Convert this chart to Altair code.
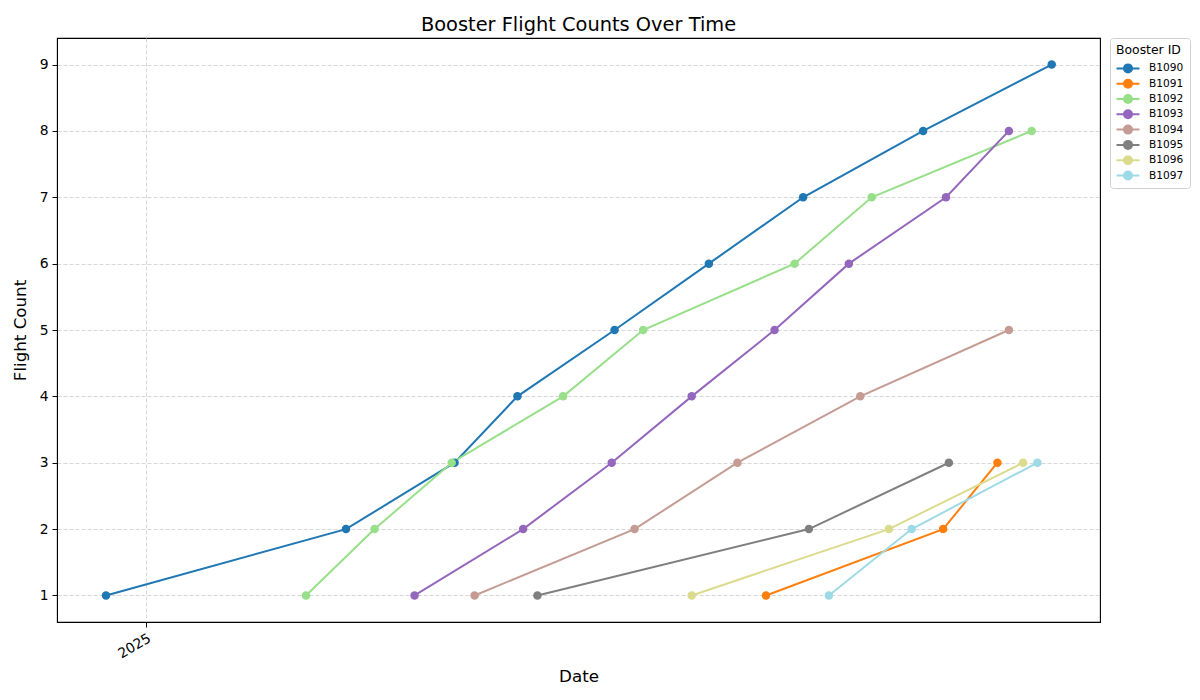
import altair as alt
import pandas as pd

boosters = ["B1090", "B1091", "B1092", "B1093", "B1094", "B1095", "B1096", "B1097"]
colors = ["#1f77b4", "#ff7f0e", "#98df8a", "#9467bd", "#c49c94", "#7f7f7f", "#dbdb8d", "#9edae5"]

b1090_dates = ["2024-12-18", "2025-03-12", "2025-04-19", "2025-05-11", "2025-06-14",
               "2025-07-17", "2025-08-19", "2025-09-30", "2025-11-14"]
b1091_dates = ["2025-08-06", "2025-10-07", "2025-10-26"]
b1092_dates = ["2025-02-26", "2025-03-22", "2025-04-18", "2025-05-27", "2025-06-24",
               "2025-08-16", "2025-09-12", "2025-11-07"]
b1093_dates = ["2025-04-05", "2025-05-13", "2025-06-13", "2025-07-11", "2025-08-09",
               "2025-09-04", "2025-10-08", "2025-10-30"]
b1094_dates = ["2025-04-26", "2025-06-21", "2025-07-27", "2025-09-08", "2025-10-30"]
b1095_dates = ["2025-05-18", "2025-08-21", "2025-10-09"]
b1096_dates = ["2025-07-11", "2025-09-18", "2025-11-04"]
b1097_dates = ["2025-08-28", "2025-09-26", "2025-11-09"]

all_dates = [b1090_dates, b1091_dates, b1092_dates, b1093_dates,
             b1094_dates, b1095_dates, b1096_dates, b1097_dates]

rows = []
for b, ds in zip(boosters, all_dates):
    for i, d in enumerate(ds):
        rows.append({"booster": b, "date": d, "count": i + 1})
df = pd.DataFrame(rows)

FONT = "DejaVu Sans"
# wide line with a circle in the middle; drawn larger than its nominal box
legend_symbol = "M-2,0L2,0M-0.7,0A0.7,0.7,0,1,1,0.7,0A0.7,0.7,0,1,1,-0.7,0Z"

x_enc = alt.X(
    "date:T",
    scale=alt.Scale(type="utc",
                    domain=[alt.DateTime(year=2024, month=11, date=30, hours=20, minutes=24, utc=True),
                            alt.DateTime(year=2025, month=11, date=30, hours=21, minutes=36, utc=True)]),
    axis=alt.Axis(values=[alt.DateTime(year=2025, month=1, date=1, utc=True)],
                  format="%Y", formatType="utc", labelAngle=-30, labelAlign="right",
                  labelBaseline="top", title="Date", titlePadding=8),
)
y_enc = alt.Y(
    "count:Q",
    scale=alt.Scale(domain=[0.6, 9.4], nice=False, zero=False),
    axis=alt.Axis(values=list(range(1, 10)), format="d", title="Flight Count", titlePadding=10),
)
color_enc = alt.Color(
    "booster:N",
    scale=alt.Scale(domain=boosters, range=colors),
    legend=alt.Legend(
        title="Booster ID", orient="none", legendX=1053, legendY=0,
        symbolType=legend_symbol, symbolSize=132, symbolStrokeWidth=2, symbolOffset=5,
        titleFontSize=12.4, titleFontWeight="normal", labelFontSize=10.6,
        strokeColor="#d0d0d0", cornerRadius=3, fillColor="white", padding=6,
        rowPadding=3.3, clipHeight=12, labelOffset=14, titlePadding=6,
    ),
)

base = alt.Chart(df).encode(x=x_enc, y=y_enc, color=color_enc, detail="booster:N")
lines = base.mark_line(strokeWidth=2)
points = base.mark_point(filled=True, size=72, opacity=1)

chart = (
    alt.layer(lines, points)
    .properties(
        width=1043, height=584,
        title=alt.TitleParams("Booster Flight Counts Over Time", fontSize=19.4,
                              fontWeight="normal", font=FONT, anchor="middle", offset=2, color="black"),
        autosize=alt.AutoSizeParams(type="none"),
        padding={"left": 49, "top": 30, "right": 92, "bottom": 70},
    )
    .configure(font=FONT)
    .configure_view(stroke="black", strokeWidth=1.1)
    .configure_axis(
        labelFont=FONT, titleFont=FONT, labelFontSize=13.9, titleFontSize=16.7,
        titleFontWeight="normal", labelColor="black", titleColor="black",
        domainColor="black", tickColor="black", tickSize=5, labelPadding=4,
        grid=True, gridColor="#d3d3d3", gridDash=[4, 2], gridWidth=0.9,
    )
    .configure_legend(labelFont=FONT, titleFont=FONT, labelColor="black", titleColor="black")
)

chart.save("out.html", embed_options={"renderer": "svg", "actions": False})
